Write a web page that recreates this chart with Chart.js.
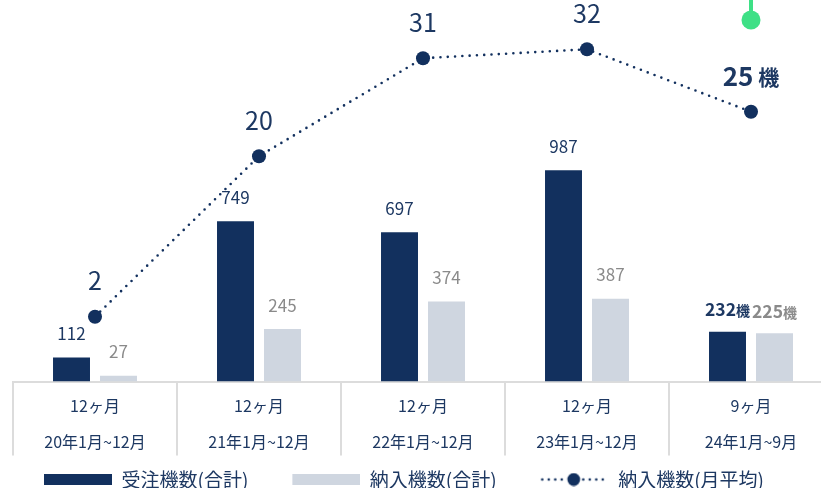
<!DOCTYPE html>
<html lang="ja">
<head>
<meta charset="utf-8">
<script src="https://cdn.jsdelivr.net/npm/chart.js@4/dist/chart.umd.min.js"></script>
<style>
  html, body { margin: 0; padding: 0; background: #fff; overflow: hidden; }
  #wrap { width: 846px; height: 499px; }
</style>
</head>
<body>
<div id="wrap"><canvas id="chart" width="846" height="499"></canvas></div>
<script>
// Period labels (two lines per category)
const periods = [
  ['12ヶ月', '20年1月~12月'],
  ['12ヶ月', '21年1月~12月'],
  ['12ヶ月', '22年1月~12月'],
  ['12ヶ月', '23年1月~12月'],
  ['9ヶ月', '24年1月~9月']
];
// Orders received (total units)
const ordersTotal = [112, 749, 697, 987, 232];
// Deliveries (total units)
const deliveriesTotal = [27, 245, 374, 387, 225];
// Deliveries (monthly average)
const deliveriesMonthly = [2, 20, 31, 32, 25];
const unit = '機';
const seriesNames = ['受注機数(合計)', '納入機数(合計)', '納入機数(月平均)'];

const FONT = "'Noto Sans CJK JP', 'Noto Sans', sans-serif";
const NAVY = '#12305e';
const NAVY_TEXT = '#1d3862';
const LIGHT = '#cfd6e0';
const GRAY_TEXT = '#8a8a8a';
const GRID = '#dcdcdc';
const GREEN = '#3ee086';

// Legend swatches: a blank lead-in of LEAD px gives the spacing between items
const LEAD = 31;
const SW_W = LEAD + 68;
function boxSwatch(color) {
  const c = document.createElement('canvas');
  c.width = SW_W; c.height = 11;
  const g = c.getContext('2d');
  g.fillStyle = color;
  g.fillRect(LEAD, 0, 68, 11);
  return c;
}
function lineSwatch(color) {
  const c = document.createElement('canvas');
  c.width = SW_W; c.height = 14;
  const g = c.getContext('2d');
  g.fillStyle = color;
  [1.5, 8, 14.5, 21, 42.5, 49, 55.5, 62].forEach(x => {
    g.beginPath(); g.arc(LEAD + x, 7, 1.3, 0, Math.PI * 2); g.fill();
  });
  g.beginPath(); g.arc(LEAD + 33, 7, 6.4, 0, Math.PI * 2); g.fill();
  return c;
}
const swatches = [boxSwatch(NAVY), boxSwatch(LIGHT), lineSwatch(NAVY)];

// Value labels above bars and points
function drawPair(ctx, a, b, cx, cy, fontA, fontB, color) {
  ctx.font = fontA;
  const wa = ctx.measureText(a).width;
  ctx.font = fontB;
  const wb = ctx.measureText(b).width;
  const x = cx - (wa + wb) / 2;
  ctx.textAlign = 'left';
  ctx.fillStyle = color;
  ctx.font = fontA; ctx.fillText(a, x, cy);
  ctx.font = fontB; ctx.fillText(b, x + wa, cy + 1);
  ctx.textAlign = 'center';
}

const valueLabels = {
  id: 'valueLabels',
  afterDatasetsDraw(chart) {
    const ctx = chart.ctx;
    ctx.save();
    ctx.textAlign = 'center';
    ctx.textBaseline = 'middle';
    chart.data.datasets.forEach((ds, di) => {
      const meta = chart.getDatasetMeta(di);
      const color = ds.labelColor;
      meta.data.forEach((el, i) => {
        const v = ds.data[i];
        const last = i === ds.data.length - 1;
        if (ds.type === 'line') {
          const y = el.y - 36;
          if (last) {
            drawPair(ctx, String(v), ' ' + unit, el.x, y, `700 26px ${FONT}`, `700 21px ${FONT}`, color);
          } else {
            ctx.font = `400 25px ${FONT}`;
            ctx.fillStyle = color;
            ctx.fillText(String(v), el.x, y);
          }
        } else {
          if (last) {
            drawPair(ctx, String(v), unit, el.x, el.y - 22, `700 17.5px ${FONT}`, `700 14px ${FONT}`, color);
          } else {
            ctx.font = `400 17px ${FONT}`;
            ctx.fillStyle = color;
            ctx.fillText(String(v), el.x, el.y - 24);
          }
        }
      });
    });
    ctx.restore();
  }
};

// Current-period marker above the last category
const currentMarker = {
  id: 'currentMarker',
  afterDraw(chart) {
    const ctx = chart.ctx;
    const x = chart.scales.x.getPixelForValue(periods.length - 1);
    ctx.save();
    ctx.strokeStyle = GREEN;
    ctx.lineWidth = 4;
    ctx.beginPath(); ctx.moveTo(x, 0); ctx.lineTo(x, 14); ctx.stroke();
    ctx.fillStyle = GREEN;
    ctx.beginPath(); ctx.arc(x, 20, 9.5, 0, Math.PI * 2); ctx.fill();
    ctx.restore();
  }
};

new Chart(document.getElementById('chart'), {
  data: {
    labels: periods,
    datasets: [
      {
        type: 'bar', label: seriesNames[0], data: ordersTotal,
        backgroundColor: NAVY, labelColor: NAVY_TEXT, yAxisID: 'y', order: 1,
        categoryPercentage: 0.573, barPercentage: 0.787
      },
      {
        type: 'bar', label: seriesNames[1], data: deliveriesTotal,
        backgroundColor: LIGHT, labelColor: GRAY_TEXT, yAxisID: 'y', order: 1,
        categoryPercentage: 0.573, barPercentage: 0.787
      },
      {
        type: 'line', label: seriesNames[2], data: deliveriesMonthly,
        borderColor: NAVY, backgroundColor: NAVY, labelColor: NAVY_TEXT,
        borderWidth: 2.6, borderDash: [0, 7.3], borderCapStyle: 'round',
        pointRadius: 7, pointHoverRadius: 7, pointBorderWidth: 0,
        pointBackgroundColor: NAVY, tension: 0, yAxisID: 'y2', order: 0
      }
    ]
  },
  options: {
    responsive: false,
    animation: false,
    devicePixelRatio: 1,
    layout: { padding: 0, autoPadding: false },
    plugins: {
      tooltip: { enabled: false },
      legend: {
        position: 'bottom',
        align: 'start',
        labels: {
          usePointStyle: true,
          pointStyleWidth: SW_W,
          boxHeight: 11,
          padding: 13,
          color: NAVY_TEXT,
          font: { family: FONT, size: 19 },
          generateLabels: () => seriesNames.map((name, i) => ({
            text: name, pointStyle: swatches[i], datasetIndex: i,
            fillStyle: 'transparent', strokeStyle: 'transparent', lineWidth: 0,
            fontColor: NAVY_TEXT, hidden: false
          }))
        }
      }
    },
    scales: {
      x: {
        offset: true,
        grid: {
          offset: true, drawOnChartArea: false, drawTicks: true,
          tickLength: 74, color: GRID, lineWidth: 2
        },
        border: { display: true, color: GRID, width: 2 },
        ticks: {
          autoSkip: false, maxRotation: 0, minRotation: 0,
          padding: -67.5, color: NAVY_TEXT,
          font: { family: FONT, size: 16, lineHeight: 2.25 }
        },
        afterFit(scale) { scale.height = 75.5; }
      },
      y: {
        position: 'left', min: 0, max: 1782,
        grid: { display: false }, border: { display: false },
        ticks: { display: false },
        afterFit(scale) { scale.width = 13; }
      },
      y2: {
        position: 'right', min: -5.27, max: 37.53,
        grid: { display: false }, border: { display: false },
        ticks: { display: false },
        afterFit(scale) { scale.width = 13; }
      }
    }
  },
  plugins: [valueLabels, currentMarker]
});
</script>
</body>
</html>
